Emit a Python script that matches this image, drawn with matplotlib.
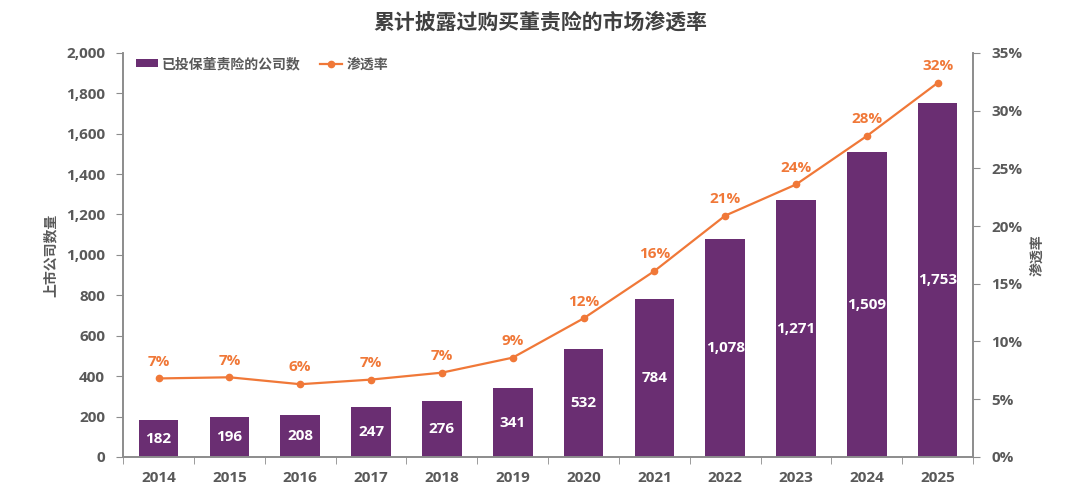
import matplotlib.pyplot as plt
from matplotlib.ticker import FuncFormatter, MultipleLocator

plt.rcParams['font.family'] = ['Open Sans', 'Noto Sans CJK SC', 'DejaVu Sans']

years = ['2014', '2015', '2016', '2017', '2018', '2019',
         '2020', '2021', '2022', '2023', '2024', '2025']
companies = [182, 196, 208, 247, 276, 341, 532, 784, 1078, 1271, 1509, 1753]
rate = [6.8, 6.9, 6.3, 6.7, 7.3, 8.6, 12.0, 16.1, 20.9, 23.6, 27.8, 32.4]

purple = '#6a2e72'
orange = '#f07838'
grey = '#595959'
axis_grey = '#8c8c8c'

fig = plt.figure(figsize=(10.8, 4.94), dpi=100)
ax = fig.add_axes([0.114, 0.075, 0.787, 0.818])
ax2 = ax.twinx()

x = range(len(years))
ax.bar(x, companies, width=0.56, color=purple, label='已投保董责险的公司数', zorder=2)
for xi, v in zip(x, companies):
    ax.text(xi, v / 2, f'{v:,}', ha='center', va='center', color='white',
            fontsize=11, fontweight='bold')

ax2.plot(x, rate, color=orange, lw=1.6, marker='o', ms=4.5, label='渗透率', zorder=3)
for xi, r in zip(x, rate):
    ax2.annotate(f'{r:.0f}%', (xi, r), xytext=(0, 7), textcoords='offset points',
                 ha='center', va='bottom', color=orange, fontsize=11, fontweight='bold')

ax.set_xlim(-0.5, len(years) - 0.5)
ax.set_ylim(0, 2000)
ax2.set_ylim(0, 35)
ax.yaxis.set_major_locator(MultipleLocator(200))
ax.yaxis.set_major_formatter(FuncFormatter(lambda v, p: f'{v:,.0f}'))
ax2.yaxis.set_major_locator(MultipleLocator(5))
ax2.yaxis.set_major_formatter(FuncFormatter(lambda v, p: f'{v:.0f}%'))

ax.set_xticks(list(x))
ax.set_xticklabels(years)
ax.set_xticks([i - 0.5 for i in range(len(years) + 1)], minor=True)
ax.tick_params(axis='x', which='major', length=0, pad=10)
ax.tick_params(axis='x', which='minor', length=5, color=axis_grey)
ax.tick_params(axis='y', length=5, color=axis_grey, pad=8)
ax2.tick_params(axis='y', length=5, color=axis_grey, pad=8)

for a in (ax, ax2):
    for lab in a.get_xticklabels() + a.get_yticklabels():
        lab.set_color(grey)
        lab.set_fontweight('bold')
        lab.set_fontsize(11)
    a.spines['top'].set_visible(False)
    for s in ('left', 'right', 'bottom'):
        a.spines[s].set_color(axis_grey)
        a.spines[s].set_linewidth(1.2)

ax.set_ylabel('上市公司数量', color=grey, fontsize=10, fontweight='bold', labelpad=6)
ax2.set_ylabel('渗透率', color=grey, fontsize=10, fontweight='bold', labelpad=6)

fig.suptitle('累计披露过购买董责险的市场渗透率', x=0.5, y=0.975, fontsize=15,
             fontweight='bold', color='#404040')

h1, l1 = ax.get_legend_handles_labels()
h2, l2 = ax2.get_legend_handles_labels()
leg = ax.legend(h1 + h2, l1 + l2, loc='upper left', bbox_to_anchor=(0.0, 1.02), ncol=2,
                frameon=False, fontsize=10, handlelength=1.6, columnspacing=1.4,
                handletextpad=0.3, handleheight=0.5)
for t in leg.get_texts():
    t.set_color(grey)
    t.set_fontweight('bold')

fig.savefig('out.png', dpi=100)
